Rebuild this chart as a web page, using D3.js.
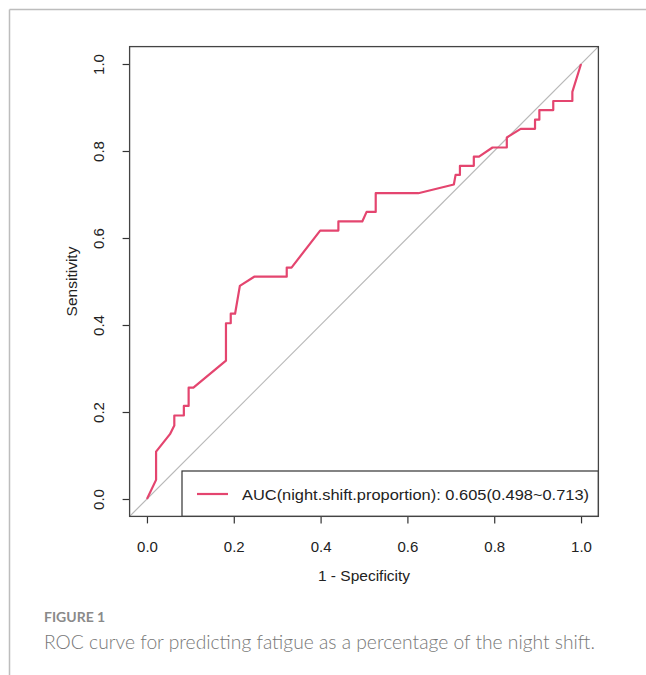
<!DOCTYPE html>
<html>
<head>
<meta charset="utf-8">
<script src="https://cdn.jsdelivr.net/npm/d3@7"></script>
<style>
  body { margin: 0; background: #fff; }
  svg { display: block; }
</style>
</head>
<body>
<div id="chart"></div>
<script>
// ROC points: 1 - specificity, sensitivity
const fpr = [0, 0.021, 0.021, 0.053, 0.063, 0.063, 0.085, 0.085, 0.096, 0.096, 0.107, 0.182, 0.182,
  0.193, 0.193, 0.203, 0.214, 0.247, 0.322, 0.322, 0.333, 0.399, 0.441, 0.441, 0.496, 0.506, 0.527,
  0.527, 0.625, 0.707, 0.711, 0.721, 0.721, 0.753, 0.753, 0.765, 0.796, 0.829, 0.829, 0.861, 0.894,
  0.894, 0.904, 0.904, 0.936, 0.936, 0.980, 0.980, 1.0];
const tpr = [0, 0.044, 0.109, 0.149, 0.169, 0.192, 0.192, 0.214, 0.214, 0.256, 0.256, 0.318, 0.404,
  0.404, 0.426, 0.426, 0.490, 0.511, 0.511, 0.532, 0.532, 0.617, 0.617, 0.638, 0.638, 0.660, 0.660,
  0.703, 0.703, 0.723, 0.745, 0.745, 0.766, 0.766, 0.787, 0.787, 0.808, 0.808, 0.831, 0.851, 0.851,
  0.872, 0.872, 0.894, 0.894, 0.915, 0.915, 0.936, 1.0];
const ticks = [0, 0.2, 0.4, 0.6, 0.8, 1.0];
const legendLabel = 'AUC(night.shift.proportion): 0.605(0.498~0.713)';
const xTitle = '1 - Specificity';
const yTitle = 'Sensitivity';
const figLabel = 'FIGURE 1';
const caption = 'ROC curve for predicting fatigue as a percentage of the night shift.';

const width = 646;
const height = 675;
const red = '#e4456f';
const rFont = '"Liberation Sans", Arial, sans-serif';

const svg = d3.select('#chart').append('svg')
  .attr('width', width)
  .attr('height', height);

// page frame (top and left rules)
svg.append('line').attr('x1', 9.5).attr('x2', width).attr('y1', 9.5).attr('y2', 9.5)
  .attr('stroke', '#bdbdbd').attr('stroke-width', 1.5);
svg.append('line').attr('x1', 9.5).attr('x2', 9.5).attr('y1', 9.5).attr('y2', height)
  .attr('stroke', '#bdbdbd').attr('stroke-width', 1.5);

// R style: domain padded by 4% on each side
const x = d3.scaleLinear().domain([-0.04, 1.04]).range([129.6, 598.4]);
const y = d3.scaleLinear().domain([-0.04, 1.04]).range([516.4, 46.6]);

// diagonal reference line
svg.append('line')
  .attr('x1', x(-0.04)).attr('y1', y(-0.04))
  .attr('x2', x(1.04)).attr('y2', y(1.04))
  .attr('stroke', '#b8b8b8')
  .attr('stroke-width', 1.2);

// ROC curve
const points = fpr.map((d, i) => [d, tpr[i]]);
svg.append('path')
  .datum(points)
  .attr('fill', 'none')
  .attr('stroke', red)
  .attr('stroke-width', 2.2)
  .attr('stroke-linejoin', 'round')
  .attr('d', d3.line().x(d => x(d[0])).y(d => y(d[1])));

// Axes
const xAxis = svg.append('g')
  .attr('transform', `translate(0, ${y(-0.04)})`)
  .call(d3.axisBottom(x).tickValues(ticks).tickFormat(d3.format('.1f')).tickSize(7).tickPadding(18));
const yAxis = svg.append('g')
  .attr('transform', `translate(${x(-0.04)}, 0)`)
  .call(d3.axisLeft(y).tickValues(ticks).tickFormat(d3.format('.1f')).tickSize(7).tickPadding(12));

[xAxis, yAxis].forEach(g => {
  g.select('.domain').remove();
  g.selectAll('line').attr('stroke', '#333').attr('stroke-width', 1.2);
  g.selectAll('text').attr('font-family', rFont).attr('font-size', 15).attr('fill', '#222');
});

yAxis.selectAll('.tick text')
  .attr('text-anchor', 'middle')
  .attr('dy', null)
  .attr('x', null)
  .attr('transform', 'translate(-30, 0) rotate(-90)')
  .attr('dominant-baseline', 'middle');

// legend box
const legX0 = 182;
const legY0 = 471;
svg.append('rect')
  .attr('x', legX0).attr('y', legY0)
  .attr('width', x(1.04) - legX0).attr('height', y(-0.04) - legY0)
  .attr('fill', '#fff').attr('stroke', '#333').attr('stroke-width', 1.2);

// plot box
svg.append('rect')
  .attr('x', x(-0.04)).attr('y', y(1.04))
  .attr('width', x(1.04) - x(-0.04)).attr('height', y(-0.04) - y(1.04))
  .attr('fill', 'none').attr('stroke', '#444').attr('stroke-width', 1.3);

svg.append('line')
  .attr('x1', 197).attr('x2', 228).attr('y1', 494).attr('y2', 494)
  .attr('stroke', red).attr('stroke-width', 2.2);
svg.append('text')
  .attr('x', 242).attr('y', 499.5)
  .attr('font-family', rFont).attr('font-size', 15.5)
  .attr('fill', '#222')
  .attr('textLength', 347)
  .attr('lengthAdjust', 'spacingAndGlyphs')
  .text(legendLabel);

// axis titles
svg.append('text')
  .attr('x', (x(0) + x(1)) / 2).attr('y', 581)
  .attr('text-anchor', 'middle')
  .attr('font-family', rFont).attr('font-size', 15.5).attr('fill', '#222')
  .text(xTitle);
svg.append('text')
  .attr('transform', `translate(77, ${(y(0) + y(1)) / 2}) rotate(-90)`)
  .attr('text-anchor', 'middle')
  .attr('font-family', rFont).attr('font-size', 15.5).attr('fill', '#222')
  .text(yTitle);

// caption
svg.append('text')
  .attr('x', 44).attr('y', 622)
  .attr('font-family', 'Lato, sans-serif').attr('font-size', 14)
  .attr('font-weight', 700).attr('fill', '#8a8a8a')
  .text(figLabel);
svg.append('text')
  .attr('x', 44).attr('y', 649)
  .attr('font-family', 'Lato, sans-serif').attr('font-size', 19)
  .attr('font-weight', 300).attr('fill', '#777')
  .attr('textLength', 551)
  .attr('lengthAdjust', 'spacingAndGlyphs')
  .text(caption);
</script>
</body>
</html>
